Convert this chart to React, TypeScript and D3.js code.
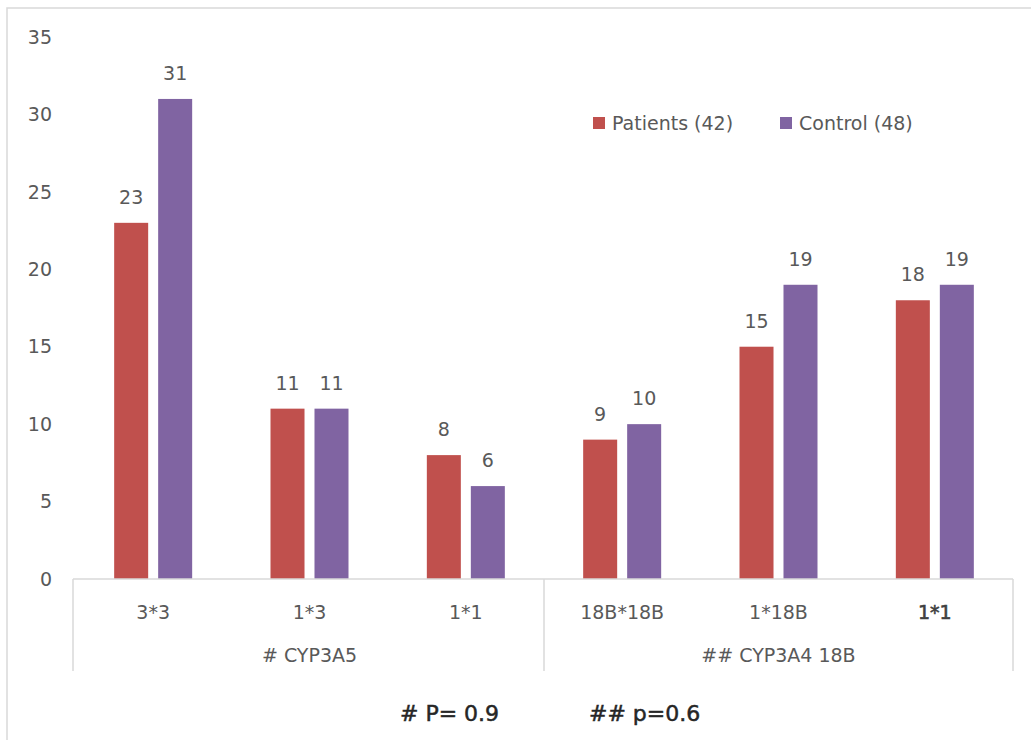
import React from "react";
import * as d3 from "d3";

const categories = ["3*3", "1*3", "1*1", "18B*18B", "1*18B", "1*1 "];
const groups = [
  { name: "# CYP3A5", cats: ["3*3", "1*3", "1*1"] },
  { name: "## CYP3A4 18B", cats: ["18B*18B", "1*18B", "1*1 "] },
];
const seriesNames = ["Patients (42)", "Control (48)"];
const patients = [23, 11, 8, 9, 15, 18];
const control = [31, 11, 6, 10, 19, 19];
const yTicks = [0, 5, 10, 15, 20, 25, 30, 35];
const colors = ["#C0504D", "#8064A2"];
const footnotes = ["# P= 0.9", "## p=0.6"];

const FONT = "'DejaVu Sans', sans-serif";
const TEXT = "#595959";
const LINE = "#d9d9d9";

export default function App() {
  const W = 1031;
  const H = 740;
  const x0 = d3.scaleBand<string>().domain(categories).range([75, 1013]).paddingInner(0).paddingOuter(0);
  const clusterW = 78;
  const off = (x0.bandwidth() - clusterW) / 2;
  const x1 = d3.scaleBand<string>().domain(seriesNames).range([off, off + clusterW]).paddingInner(0.227).paddingOuter(0);
  const y = d3.scaleLinear().domain([0, 35]).range([579, 37]);
  const values = [patients, control];
  const axisY = y(0);
  const dividers = [73, 544, 1013];

  return (
    <div style={{ position: "fixed", left: 0, top: 0 }}>
      <svg width={W} height={H} style={{ display: "block", background: "#fff" }}>
        <rect x={7} y={8} width={W + 10} height={H + 10} fill="#fff" stroke={LINE} strokeWidth={1.5} />
        {yTicks.map((t) => (
          <text key={t} x={52} y={y(t)} dy="0.35em" textAnchor="end" fontFamily={FONT} fontSize={19} fill={TEXT}>
            {t}
          </text>
        ))}
        {seriesNames.map((s, si) =>
          categories.map((c, ci) => {
            const bx = (x0(c) as number) + (x1(s) as number);
            const v = values[si][ci];
            return (
              <g key={s + c}>
                <rect x={bx} y={y(v)} width={x1.bandwidth()} height={axisY - y(v)} fill={colors[si]} />
                <text x={bx + x1.bandwidth() / 2} y={y(v) - 19} textAnchor="middle" fontFamily={FONT} fontSize={19} fill={TEXT}>
                  {v}
                </text>
              </g>
            );
          })
        )}
        <line x1={73} x2={1013} y1={axisY} y2={axisY} stroke={LINE} strokeWidth={1.5} />
        {dividers.map((d, i) => (
          <line key={i} x1={d} x2={d} y1={axisY} y2={671} stroke={LINE} strokeWidth={1.5} />
        ))}
        {categories.map((c, i) => (
          <text
            key={c}
            x={(x0(c) as number) + x0.bandwidth() / 2}
            y={612}
            dy="0.35em"
            textAnchor="middle"
            fontFamily={FONT}
            fontSize={19}
            fill={i === 5 ? "#404040" : TEXT}
            stroke={i === 5 ? "#404040" : "none"}
            strokeWidth={0.6}
          >
            {c.trim()}
          </text>
        ))}
        {groups.map((g) => {
          const a = x0(g.cats[0]) as number;
          const b = (x0(g.cats[g.cats.length - 1]) as number) + x0.bandwidth();
          return (
            <text key={g.name} x={(a + b) / 2} y={655} dy="0.35em" textAnchor="middle" fontFamily={FONT} fontSize={19} fill={TEXT}>
              {g.name}
            </text>
          );
        })}
        {seriesNames.map((s, i) => {
          const lx = [593, 780][i];
          return (
            <g key={s}>
              <rect x={lx} y={117} width={12} height={12} fill={colors[i]} />
              <text x={lx + 19} y={123} dy="0.35em" fontFamily={FONT} fontSize={19} fill={TEXT}>
                {s}
              </text>
            </g>
          );
        })}
        {footnotes.map((f, i) => (
          <text
            key={f}
            x={[400, 589][i]}
            y={713}
            dy="0.35em"
            fontFamily={FONT}
            fontSize={22}
            fill="#262626"
            stroke="#262626"
            strokeWidth={0.5}
          >
            {f}
          </text>
        ))}
      </svg>
    </div>
  );
}
